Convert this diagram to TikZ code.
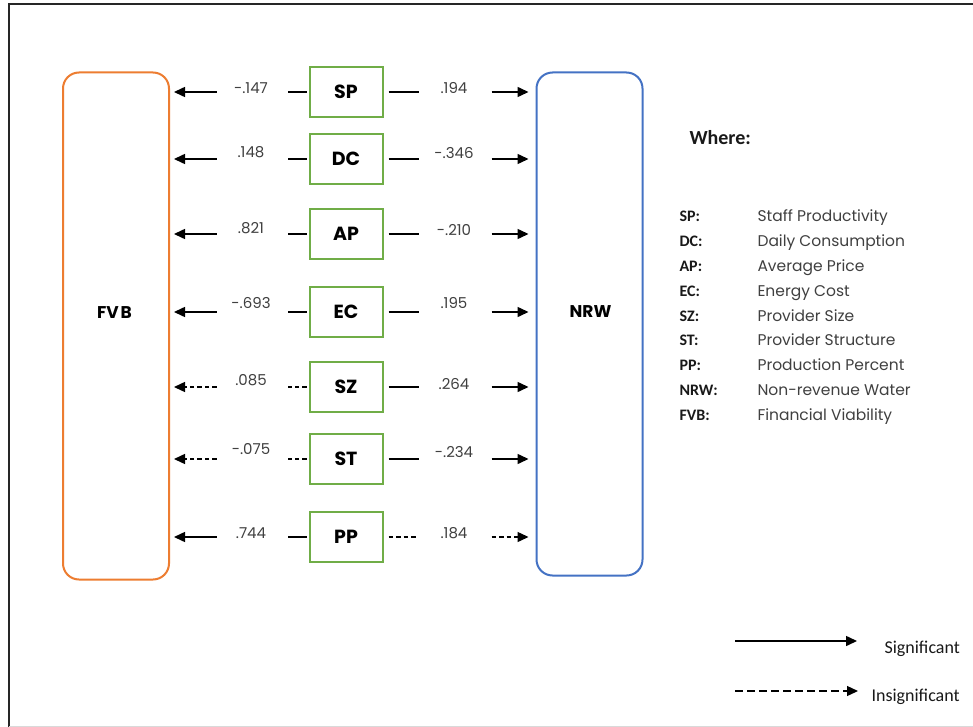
\documentclass[tikz,border=0pt]{standalone}
\usepackage{fontspec}
\setmainfont{Poppins}
\newfontfamily\calib{Carlito}
\usetikzlibrary{arrows.meta}
\definecolor{fvbor}{HTML}{ED7D31}
\definecolor{nrwbl}{HTML}{4472C4}
\definecolor{grn}{HTML}{70AD47}
\definecolor{txtg}{HTML}{404040}
\tikzset{
  bigbox/.style={draw, line width=2pt, rounded corners=16pt, minimum width=106pt},
  biglbl/.style={font=\bfseries\fontsize{17}{20}\selectfont},
  varbox/.style={draw=grn, line width=2pt, minimum width=73pt, minimum height=50pt, font=\bfseries\fontsize{19}{21}\selectfont},
  num/.style={font=\fontsize{15}{17}\selectfont, text=txtg},
  lineS/.style={line width=1.5pt},
  lineD/.style={line width=1.4pt, dash pattern=on 4.5pt off 3pt},
  lineL/.style={line width=1.3pt, dash pattern=on 8pt off 4pt},
  tip/.style={-{Triangle[length=11pt,width=10pt]}},
  abbr/.style={anchor=base west, font=\calib\bfseries\fontsize{16}{18}\selectfont, text=black!90},
  desc/.style={anchor=base west, font=\fontsize{15.5}{17}\selectfont, text=txtg},
  legtxt/.style={anchor=base west, font=\calib\fontsize{18}{20}\selectfont, text=black!90}
}
\begin{document}
\begin{tikzpicture}[x=1pt,y=-1pt]
\useasboundingbox (0,0) rectangle (973,727);
\fill[white] (0,0) rectangle (973,727);
% frame
\draw[line width=2pt, black!85] (9,727) -- (9,4) -- (973,4);
\draw[line width=1pt, black!15] (9,726) -- (973,726);
% big boxes
\node[bigbox, draw=fvbor, minimum height=507pt] (fvb) at (116,326) {};
\node[bigbox, draw=nrwbl, minimum height=503pt] (nrw) at (589.5,324) {};
\node[biglbl] (fvbl) at (114.5,313) {FV\kern2pt B};
\node[biglbl] (nrwl) at (590.5,312) {NRW};
% rows
\foreach \n/\t/\y/\ls/\ln/\lly/\rs/\rn/\rly in {
  sp/SP/92/lineS/-.147/88/lineS/.194/88,
  dc/DC/159/lineS/.148/152/lineS/-.346/153,
  ap/AP/234/lineS/.821/228/lineS/-.210/230,
  ec/EC/312/lineS/-.693/303/lineS/.195/303,
  sz/SZ/387/lineD/.085/380/lineS/.264/384,
  st/ST/459/lineD/-.075/449/lineS/-.234/452,
  pp/PP/537/lineS/.744/533/lineD/.184/533}{
  \node[varbox] (\n) at (346,\y) {\t};
  \draw[\ls] ([xshift=-2pt]\n.west) -- ++(-19,0);
  \draw[\ls, tip, shorten >=4pt] ([xshift=-92pt]\n.west) -- (\n.west -| fvb.east);
  \node[num] at (251,\lly) {\ln};
  \draw[\rs] ([xshift=5pt]\n.east) -- ++(30,0);
  \draw[\rs, tip, shorten >=7pt] ([xshift=108pt]\n.east) -- (\n.east -| nrw.west);
  \node[num] at (454,\rly) {\rn};
}
% legend
\node[anchor=base west, font=\calib\bfseries\fontsize{20}{22}\selectfont, text=black!90] (where) at (686,145) {Where:};
\foreach \i/\a/\d in {0/SP:/Staff Productivity, 1/DC:/Daily Consumption, 2/AP:/Average Price,
  3/EC:/Energy Cost, 4/SZ:/Provider Size, 5/ST:/Provider Structure, 6/PP:/Production Percent,
  7/NRW:/Non-revenue Water, 8/FVB:/Financial Viability}{
  \node[abbr] (ab\i) at (676,{222+24.75*\i}) {\a};
  \node[desc] (de\i) at (754,{222+24.75*\i}) {\d};
}
\coordinate (s1) at (735,641);
\coordinate (s2) at (857,641);
\coordinate (d1) at (735,691);
\coordinate (d2) at (858,691);
\draw[lineS, tip] (s1) -- (s2);
\draw[lineL, tip] (d1) -- (d2);
\node[legtxt] (sig) at (881,653) {Significant};
\node[legtxt] (insig) at (868,701) {Insignificant};
\end{tikzpicture}
\end{document}
